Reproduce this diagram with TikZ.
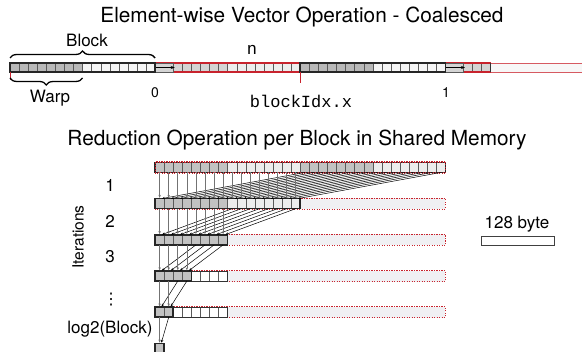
\documentclass[tikz,border=0pt]{standalone}
\usepackage{fontspec}
\setmainfont{TeX Gyre Heros}
\setmonofont{Liberation Mono}
\newfontfamily\symfont{DejaVu Sans}
\usetikzlibrary{arrows.meta, decorations.pathreplacing, calc}
\definecolor{memred}{RGB}{200,35,45}
\definecolor{shmem}{RGB}{240,240,243}

\begin{document}
\begin{tikzpicture}[
    x=1pt, y=-1pt,
    cell/.style={draw=black!65, line width=0.4pt, minimum width=9.07pt, minimum height=9pt, inner sep=0pt, outer sep=0pt},
    rcell/.style={cell, minimum height=10pt},
    blockframe/.style={draw=black!85, line width=1.6pt},
    thinframe/.style={draw=black!80, line width=0.8pt},
    redline/.style={draw=memred, line width=1.3pt},
    smem/.style={draw=memred, line width=1.2pt, dash pattern=on 1.2pt off 1.3pt},
    title/.style={font=\fontsize{20.8}{24}\selectfont, anchor=base},
    lbl/.style={font=\fontsize{17}{20}\selectfont, anchor=base},
    idx/.style={font=\fontsize{14}{16}\selectfont, anchor=base},
    code/.style={font=\ttfamily\fontsize{17}{20}\selectfont, anchor=base},
    brace/.style={decorate, decoration={brace, amplitude=7pt}, line width=1.3pt},
    move/.style={-{Stealth[length=3pt, width=2.4pt]}, black!55, line width=0.6pt, shorten >=0.8pt},
    fold/.style={-{Stealth[length=3pt, width=2.4pt]}, black, line width=0.5pt, shorten >=0.8pt}
]
\useasboundingbox (0,0) rectangle (582,352);

% ---------- Element-wise vector operation ----------
\node[title] (ttop) at (302,23) {Element-wise Vector Operation - Coalesced};

% vector cells (two blocks of 16, warps of 8)
\foreach \i in {0,...,52} {
  \pgfmathtruncatemacro{\half}{mod(\i,16)<8}
  \pgfmathtruncatemacro{\inblk}{or(\i<16, and(\i>31, \i<48))}
  \pgfmathtruncatemacro{\shade}{\inblk ? (\half ? 28 : 4) : (\half ? 17 : 7)}
  \node[cell, fill=black!\shade] (t\i) at ({10+(\i+0.5)*9.07}, 67.5) {};
}
\fill[black!3] (t52.north east) rectangle (582,72);
\draw[memred!75, line width=0.8pt] (t0.north west) -- (582,63);
\draw[memred!75, line width=0.8pt] (t0.south west) -- (582,72);
\draw[redline] (t16.north west) -- (t31.north east);
\draw[redline] (t16.south west) -- (t31.south east);
\draw[redline] (t48.north west) -- (t52.north east);
\draw[redline] (t48.south west) -- (t52.south east);
\draw[black!80, line width=1.2pt] (t52.north east) -- (t52.south east);

% stride arrows
\draw[draw=black!65, line width=0.4pt, fill=black!17] (t16.north west) rectangle (t17.south east);
\draw[draw=black!65, line width=0.4pt, fill=black!17] (t48.north west) rectangle (t49.south east);
\draw[-{Stealth[length=4pt, width=3pt]}, line width=0.6pt] (t16.west) -- ([xshift=1.5pt]t18.west);
\draw[-{Stealth[length=4pt, width=3pt]}, line width=0.6pt] (t48.west) -- ([xshift=1.5pt]t50.west);

% blocks
\draw[blockframe] (t0.north west) rectangle (t15.south east);
\draw[blockframe] (t32.north west) rectangle (t47.south east);
\draw[memred, line width=1pt] (t0.south west) -- ++(0,8);
\draw[memred, line width=1pt] (t32.south west) -- ++(0,11);

% braces and labels
\draw[brace] ([yshift=5pt]t0.north west) -- ([yshift=5pt]t15.north east);
\draw[brace] ([yshift=-6pt]t7.south east) -- ([yshift=-6pt]t0.south west);
\node[lbl] (blk) at (87,47) {Block};
\node[lbl] (warp) at (50,103) {Warp};
\node[code] (n) at (252,55) {n};
\node[idx] (b0) at (155,98) {0};
\node[idx] (b1) at (446,98) {1};
\node[code] (bidx) at (301,108) {blockIdx.x};

% ---------- Reduction in shared memory ----------
\node[title] (tred) at (297,146) {Reduction Operation per Block in Shared Memory};

% rows: k / last cell / last active cell
\foreach \k/\n/\g in {0/31/31, 1/15/15, 2/7/7, 3/7/3, 4/7/1, 5/0/0} {
  \pgfmathsetmacro{\yy}{167.5+36.2*\k}
  \ifnum\k<5
    \draw[smem, fill=shmem] (155.1, \yy-5.5) rectangle ++(290.2, 11);
  \fi
  \foreach \i in {0,...,\n} {
    \pgfmathtruncatemacro{\shade}{\i>\g ? 0 : (mod(\i,16)<8 ? 24 : 7)}
    \node[rcell, fill=black!\shade] (r\k-\i) at ({155.1+(\i+0.5)*9.07}, \yy) {};
  }
  \draw[thinframe] (r\k-0.north west) rectangle (r\k-\n.south east);
  \draw[blockframe] (r\k-0.north west) rectangle (r\k-\g.south east);
}
\draw[smem] (r0-0.north west) rectangle (r0-31.south east);

% pairwise folding
\foreach \k/\kk/\h in {0/1/16, 1/2/8, 2/3/4, 3/4/2, 4/5/1} {
  \pgfmathtruncatemacro{\hm}{\h-1}
  \foreach \i in {0,...,\hm} {
    \pgfmathtruncatemacro{\j}{\i+\h}
    \draw[move] (r\k-\i.south) -- (r\kk-\i.north);
    \draw[fold] (r\k-\j.south) -- ([xshift=1.5pt]r\kk-\i.north);
  }
}

% iteration labels
\node[lbl, font=\fontsize{15.5}{18}\selectfont, rotate=90, anchor=center] (iter) at (78,237) {Iterations};
\node[lbl] (it1) at (110,192) {1};
\node[lbl] (it2) at (110,228) {2};
\node[lbl] (it3) at (110,263) {3};
\node[lbl, font=\symfont\fontsize{16}{18}\selectfont, anchor=center] (itd) at (111,300) {⋮};
\node[lbl] (itlog) at (110,334) {log2(Block)};

% scale
\node[lbl] (bytelbl) at (517,229) {128 byte};
\node[draw=black!75, line width=0.8pt, fill=white, minimum width=73pt, minimum height=8.5pt, inner sep=0pt] (bytebox) at (517.5,240.8) {};

\end{tikzpicture}
\end{document}
